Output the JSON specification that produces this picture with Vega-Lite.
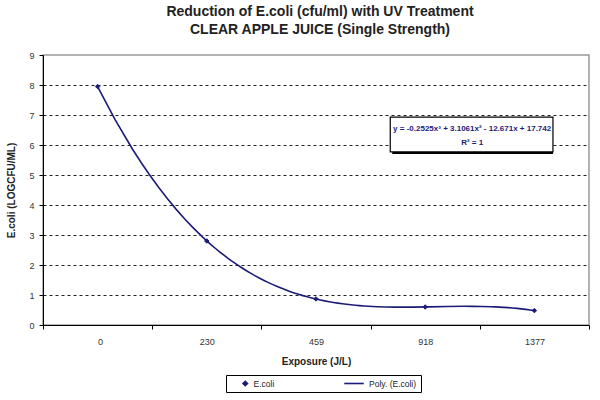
{
  "$schema": "https://vega.github.io/schema/vega-lite/v6.json",
  "width": 546,
  "height": 270,
  "autosize": "none",
  "padding": {"left": 43, "top": 55, "right": 11, "bottom": 75},
  "background": "white",
  "title": {
    "text": ["Reduction of E.coli (cfu/ml) with UV Treatment", "CLEAR APPLE JUICE (Single Strength)"],
    "font": "Liberation Sans",
    "fontSize": 14,
    "fontWeight": "bold",
    "color": "#222",
    "lineHeight": 18,
    "anchor": "middle",
    "dx": 4,
    "offset": 14
  },
  "datasets": {
    "pts": [
      {"idx": 1, "exposure": "0", "logcfu": 7.95, "series": "E.coli"},
      {"idx": 2, "exposure": "230", "logcfu": 2.8, "series": "E.coli"},
      {"idx": 3, "exposure": "459", "logcfu": 0.87, "series": "E.coli"},
      {"idx": 4, "exposure": "918", "logcfu": 0.6, "series": "E.coli"},
      {"idx": 5, "exposure": "1377", "logcfu": 0.48, "series": "E.coli"}
    ],
    "box": [{"x1": 3.68, "x2": 5.17, "y1": 5.77, "y2": 6.93}],
    "eq": [
      {"x": 4.43, "y": 6.55, "label": "y = -0.2525x³ + 3.1061x² - 12.671x + 17.742"},
      {"x": 4.43, "y": 6.08, "label": "R² = 1"}
    ]
  },
  "encoding": {
    "x": {
      "type": "quantitative",
      "scale": {"domain": [0.5, 5.5], "nice": false, "zero": false},
      "axis": {
        "title": "Exposure (J/L)",
        "values": [0.5, 1.5, 2.5, 3.5, 4.5, 5.5],
        "labelOffset": 54.6,
        "labelExpr": "datum.value == 0.5 ? '0' : datum.value == 1.5 ? '230' : datum.value == 2.5 ? '459' : datum.value == 3.5 ? '918' : datum.value == 4.5 ? '1377' : ''",
        "grid": false,
        "tickSize": 4,
        "domainColor": "#000",
        "tickColor": "#000",
        "labelPadding": 8,
        "titlePadding": 10
      }
    },
    "y": {
      "type": "quantitative",
      "scale": {"domain": [0, 9], "nice": false},
      "axis": {
        "title": "E.coli (LOGCFU/ML)",
        "values": [0, 1, 2, 3, 4, 5, 6, 7, 8, 9],
        "format": "d",
        "grid": true,
        "gridDash": [3, 3],
        "gridColor": {"condition": {"test": "datum.value == 9 || datum.value == 0", "value": "transparent"}, "value": "#222"},
        "gridWidth": 1,
        "tickSize": 4,
        "domainColor": "#000",
        "tickColor": "#000",
        "labelPadding": 5,
        "titlePadding": 12
      }
    }
  },
  "layer": [
    {
      "data": {"name": "pts"},
      "transform": [
        {"regression": "logcfu", "on": "idx", "method": "poly", "order": 3, "extent": [1, 5]}
      ],
      "mark": {"type": "line", "color": "#1c1c78", "strokeWidth": 1.6},
      "encoding": {
        "x": {"field": "idx"},
        "y": {"field": "logcfu"}
      }
    },
    {
      "data": {"name": "pts"},
      "mark": {"type": "point", "filled": true, "fill": "#1c1c78", "stroke": "#1c1c78", "strokeWidth": 1, "opacity": 1},
      "encoding": {
        "x": {"field": "idx"},
        "y": {"field": "logcfu"},
        "shape": {
          "field": "series",
          "type": "nominal",
          "scale": {"domain": ["E.coli", "Poly. (E.coli)"], "range": ["diamond", "stroke"]},
          "legend": {
            "title": null,
            "orient": "none",
            "legendX": 183,
            "legendY": 320,
            "direction": "horizontal",
            "strokeColor": "#000",
            "fillColor": "white",
            "padding": 4,
            "columnPadding": 57,
            "symbolOffset": 11,
            "clipHeight": 9,
            "labelFont": "Liberation Sans",
            "labelFontSize": 8.5,
            "labelColor": "#222",
            "symbolFillColor": "#1c1c78",
            "symbolStrokeColor": "#1c1c78",
            "symbolStrokeWidth": 1.6,
            "symbolOpacity": 1
          }
        },
        "size": {
          "field": "series",
          "type": "nominal",
          "scale": {"domain": ["E.coli", "Poly. (E.coli)"], "range": [20, 380]}
        }
      }
    },
    {
      "data": {"name": "box"},
      "mark": {"type": "rect", "fill": "#000", "xOffset": 2, "yOffset": 2},
      "encoding": {
        "x": {"field": "x1"},
        "x2": {"field": "x2"},
        "y": {"field": "y1"},
        "y2": {"field": "y2"}
      }
    },
    {
      "data": {"name": "box"},
      "mark": {"type": "rect", "fill": "white", "stroke": "#000", "strokeWidth": 1.2},
      "encoding": {
        "x": {"field": "x1"},
        "x2": {"field": "x2"},
        "y": {"field": "y1"},
        "y2": {"field": "y2"}
      }
    },
    {
      "data": {"name": "eq"},
      "mark": {"type": "text", "font": "Liberation Sans", "fontSize": 8, "fontWeight": "bold", "color": "#1c1c78", "align": "center", "baseline": "middle"},
      "encoding": {
        "x": {"field": "x"},
        "y": {"field": "y"},
        "text": {"field": "label"}
      }
    }
  ],
  "config": {
    "view": {"stroke": "#999", "strokeWidth": 1.5},
    "axis": {
      "labelFont": "Liberation Sans",
      "labelFontSize": 9,
      "labelColor": "#333",
      "titleFont": "Liberation Sans",
      "titleFontSize": 10,
      "titleFontWeight": "bold",
      "titleColor": "#222"
    }
  }
}
